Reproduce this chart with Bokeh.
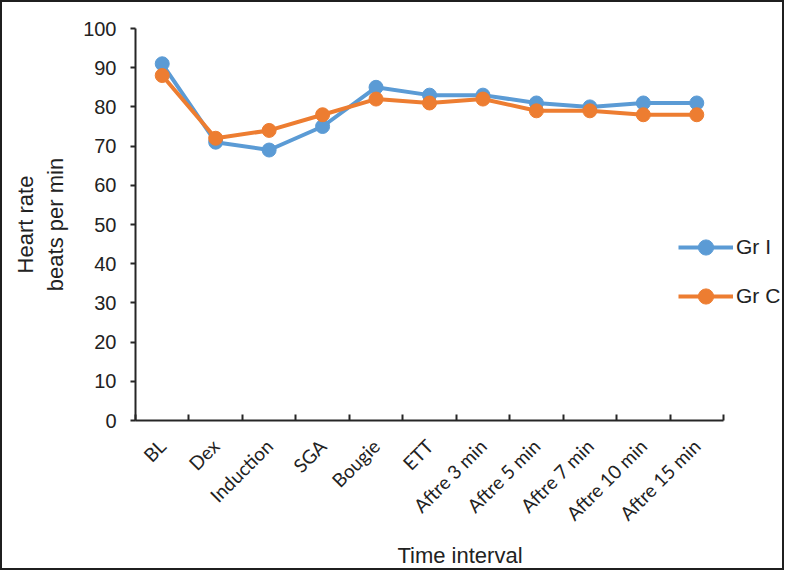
from bokeh.plotting import figure
from bokeh.models import Range1d, FixedTicker, Legend, LegendItem, ColumnDataSource
from bokeh.embed import file_html
from bokeh.resources import INLINE
import math

categories = ["BL", "Dex", "Induction", "SGA", "Bougie", "ETT",
              "Aftre 3 min", "Aftre 5 min", "Aftre 7 min", "Aftre 10 min", "Aftre 15 min"]
gr_i = [91, 71, 69, 75, 85, 83, 83, 81, 80, 81, 81]
gr_c = [88, 72, 74, 78, 82, 81, 82, 79, 79, 78, 78]
y_ticks = [0, 10, 20, 30, 40, 50, 60, 70, 80, 90, 100]

n = len(categories)
centers = [i + 0.5 for i in range(n)]
bounds = list(range(n + 1))

src = ColumnDataSource(dict(x=centers, gi=gr_i, gc=gr_c))

BLUE = "#5B9BD5"
ORANGE = "#ED7D31"
AX = "#262626"
TXT = "#222222"

W, H = 784, 570
LEFT, AXIS_RIGHT, TOP, BOTTOM = 135, 723, 28, 420
# frame runs to the right canvas edge; the x axis line stops at the last category
x_end = n * (W - LEFT) / (AXIS_RIGHT - LEFT)

p = figure(width=W, height=H, output_backend="svg", toolbar_location=None,
           x_range=Range1d(0, x_end), y_range=Range1d(0, 100),
           min_border_left=LEFT, min_border_right=0, min_border_top=TOP,
           min_border_bottom=H - BOTTOM)
p.background_fill_alpha = 0
p.border_fill_alpha = 0
p.styles = {"box-shadow": "inset 0 0 0 2px #1f1f1f", "background": "white"}
p.outline_line_color = None
p.xgrid.visible = False
p.ygrid.visible = False

l1 = p.line("x", "gi", source=src, line_color=BLUE, line_width=4)
s1 = p.scatter("x", "gi", source=src, size=14, fill_color=BLUE, line_color=BLUE)
l2 = p.line("x", "gc", source=src, line_color=ORANGE, line_width=4)
s2 = p.scatter("x", "gc", source=src, size=14, fill_color=ORANGE, line_color=ORANGE)

# x axis
xa = p.xaxis[0]
xa.bounds = (0, n)
xa.ticker = FixedTicker(ticks=centers, minor_ticks=bounds)
xa.major_label_overrides = {c: lab for c, lab in zip(centers, categories)}
xa.major_tick_line_color = None
xa.minor_tick_in = 6
xa.minor_tick_out = 0
xa.minor_tick_line_color = AX
xa.minor_tick_line_width = 2
xa.axis_line_color = AX
xa.axis_line_width = 2
xa.major_label_orientation = math.pi / 4
xa.major_label_text_font = "Lato"
xa.major_label_text_font_size = "19px"
xa.major_label_text_color = TXT
xa.major_label_standoff = 16
xa.axis_label = "Time interval"
xa.axis_label_text_font = "Liberation Sans"
xa.axis_label_text_font_style = "normal"
xa.axis_label_text_font_size = "22px"
xa.axis_label_text_color = TXT
xa.axis_label_standoff = 7

# y axis
ya = p.yaxis[0]
ya.ticker = FixedTicker(ticks=y_ticks)
ya.minor_tick_line_color = None
ya.major_tick_in = 0
ya.major_tick_out = 5
ya.major_tick_line_color = AX
ya.major_tick_line_width = 2
ya.axis_line_color = AX
ya.axis_line_width = 2
ya.major_label_text_font = "Liberation Sans"
ya.major_label_text_font_size = "20px"
ya.major_label_text_color = TXT
ya.major_label_standoff = 14
ya.axis_label = "Heart rate\nbeats per min"
ya.axis_label_text_font = "Liberation Sans"
ya.axis_label_text_font_style = "normal"
ya.axis_label_text_font_size = "22px"
ya.axis_label_text_color = TXT
ya.axis_label_standoff = 12

legend = Legend(items=[LegendItem(label="Gr I", renderers=[l1, s1]),
                       LegendItem(label="Gr C", renderers=[l2, s2])],
                location=(543, 105))
legend.glyph_width = 55
legend.glyph_height = 38
legend.label_height = 38
legend.label_standoff = 3
legend.spacing = 11
legend.padding = 0
legend.margin = 0
legend.border_line_alpha = 0
legend.background_fill_alpha = 0
legend.label_text_font = "Liberation Sans"
legend.label_text_font_size = "21px"
legend.label_text_color = TXT
p.add_layout(legend)

open("out.html", "w").write(file_html(p, INLINE))
